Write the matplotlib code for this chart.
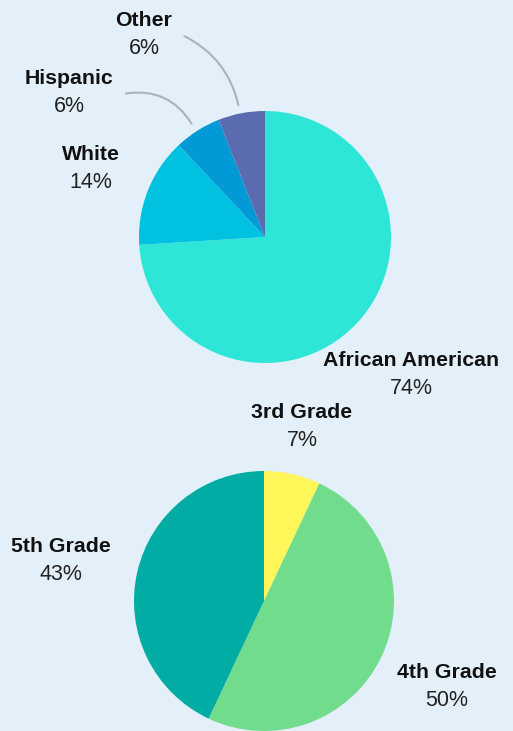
import matplotlib
matplotlib.use("Agg")
import matplotlib.pyplot as plt

# Data
race_labels = ["African American", "White", "Hispanic", "Other"]
race_values = [74, 14, 6, 6]
race_colors = ["#2ee6d8", "#00c1e0", "#0199d6", "#5a6bb0"]

grade_labels = ["3rd Grade", "4th Grade", "5th Grade"]
grade_values = [7, 50, 43]
grade_colors = ["#fff75a", "#70dc8c", "#00aca4"]

BG = "#e3f0f9"
H = 731
plt.rcParams['font.family'] = ['Liberation Sans', 'DejaVu Sans']

fig = plt.figure(figsize=(5.13, 7.31), dpi=100, facecolor=BG)
ax = fig.add_axes([0, 0, 1, 1])
ax.set_facecolor(BG)
ax.set_xlim(0, 513)
ax.set_ylim(0, H)
ax.set_aspect('equal')
ax.axis('off')

ax.pie(race_values, colors=race_colors, startangle=90, counterclock=False,
       center=(265, H - 237), radius=126, wedgeprops=dict(linewidth=0))
ax.pie(grade_values, colors=grade_colors, startangle=90, counterclock=False,
       center=(264, H - 601), radius=130, wedgeprops=dict(linewidth=0))
ax.set_xlim(0, 513)
ax.set_ylim(0, H)

def label(name, val, x, y):
    ax.text(x, H - y, name, ha='center', va='center', fontsize=15.3,
            fontweight='bold', color='#111111')
    ax.text(x, H - (y + 28), f"{val}%", ha='center', va='center',
            fontsize=15.5, color='#222222')

race_pos = [(411, 361), (91, 154), (69, 79), (144, 21)]
for n, v, (x, y) in zip(race_labels, race_values, race_pos):
    label(n, v, x, y)
grade_pos = [(302, 413), (447, 673), (61, 546)]
for n, v, (x, y) in zip(grade_labels, grade_values, grade_pos):
    label(n, v, x, y)

# connector lines
ax.annotate("", xy=(239, H - 108), xytext=(182, H - 35),
            arrowprops=dict(arrowstyle='-', color='#aab3ba', lw=1.5,
                            connectionstyle='arc3,rad=-0.25'))
ax.annotate("", xy=(193, H - 126), xytext=(123, H - 94),
            arrowprops=dict(arrowstyle='-', color='#aab3ba', lw=1.5,
                            connectionstyle='arc3,rad=-0.35'))

fig.savefig("out.png", dpi=100, facecolor=BG)
